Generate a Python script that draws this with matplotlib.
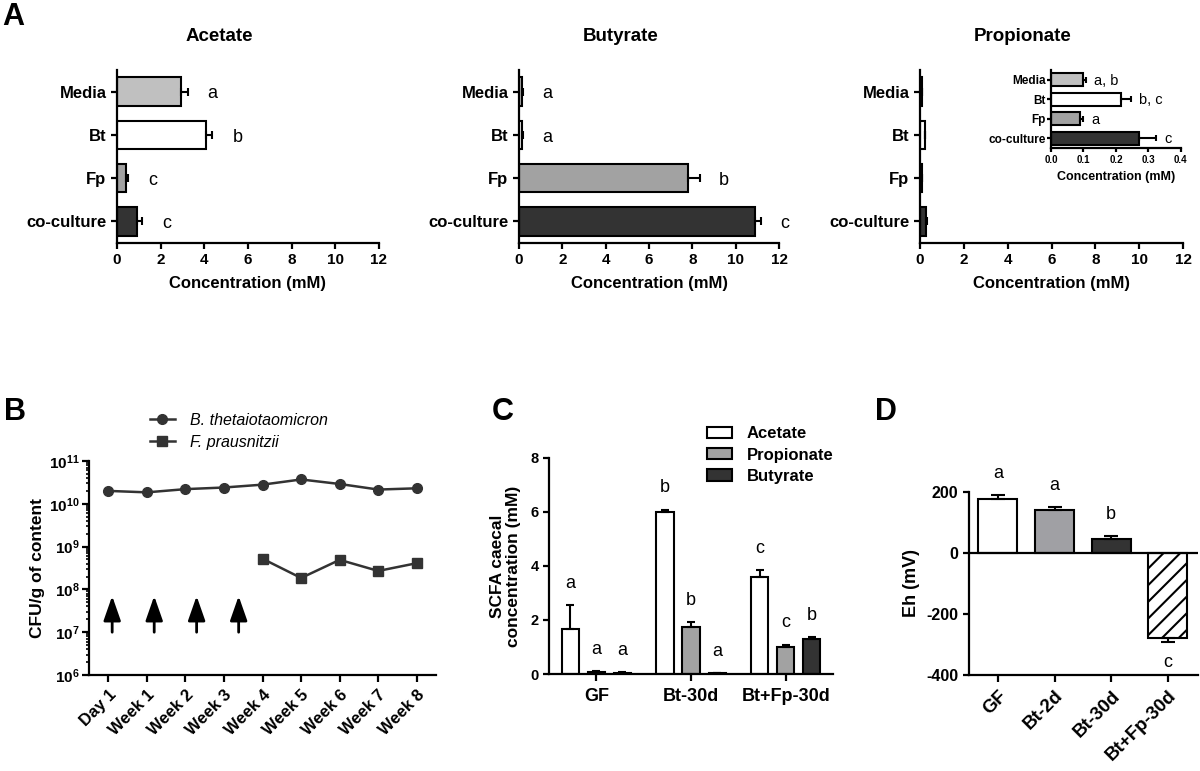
import numpy as np
import matplotlib.pyplot as plt

plt.rcParams['font.family'] = ['Liberation Sans', 'DejaVu Sans']
plt.rcParams['font.weight'] = 'bold'
plt.rcParams['axes.labelweight'] = 'bold'
plt.rcParams['axes.titleweight'] = 'bold'
plt.rcParams['axes.unicode_minus'] = False
plt.rcParams['mathtext.fontset'] = 'custom'
plt.rcParams['mathtext.rm'] = 'Liberation Sans'
plt.rcParams['mathtext.bf'] = 'Liberation Sans:bold'
plt.rcParams['axes.linewidth'] = 1.6
plt.rcParams['hatch.linewidth'] = 1.5

# panel A - in vitro
groups = ['Media', 'Bt', 'Fp', 'co-culture']
bar_colors = ['#c0c0c0', 'white', '#a2a2a2', '#333333']

acetate = [2.91, 4.07, 0.41, 0.91]
acetate_err = [0.32, 0.30, 0.08, 0.22]
acetate_sig = ['a', 'b', 'c', 'c']

butyrate = [0.15, 0.12, 7.80, 10.88]
butyrate_err = [0.05, 0.05, 0.54, 0.28]
butyrate_sig = ['a', 'a', 'b', 'c']

propionate = [0.098, 0.216, 0.088, 0.270]
propionate_err = [0.010, 0.031, 0.010, 0.053]
propionate_sig = ['a, b', 'b, c', 'a', 'c']

# panel B - colonisation
days = ['Day 1', 'Week 1', 'Week 2', 'Week 3', 'Week 4', 'Week 5', 'Week 6', 'Week 7', 'Week 8']
bt_cfu = [2.0e10, 1.85e10, 2.2e10, 2.4e10, 2.8e10, 3.7e10, 2.9e10, 2.15e10, 2.3e10]
fp_start = 4
fp_cfu = [5.2e8, 1.85e8, 4.9e8, 2.7e8, 4.1e8]
gavage = [0.1, 1.19, 2.29, 3.38]

# panel C - caecal SCFA
c_groups = ['GF', 'Bt-30d', 'Bt+Fp-30d']
c_acetate = [1.68, 5.99, 3.60]
c_acetate_err = [0.88, 0.10, 0.24]
c_acetate_sig = ['a', 'b', 'c']
c_prop = [0.06, 1.73, 0.99]
c_prop_err = [0.04, 0.20, 0.10]
c_prop_sig = ['a', 'b', 'c']
c_but = [0.05, 0.02, 1.30]
c_but_err = [0.03, 0.01, 0.07]
c_but_sig = ['a', 'a', 'b']

# panel D - redox
d_groups = ['GF', 'Bt-2d', 'Bt-30d', 'Bt+Fp-30d']
eh = [178, 142, 47, -278]
eh_err = [13, 10, 10, 14]
eh_sig = ['a', 'a', 'b', 'c']
d_colors = ['white', '#a0a0a4', '#333333', 'white']


def style(ax):
    ax.spines['top'].set_visible(False)
    ax.spines['right'].set_visible(False)
    ax.tick_params(width=1.6, length=4, direction='out')


def hbars(ax, vals, errs, sig, xmax, step, off, fs_tick, fs_ylab, fs_sig, fs_lab, labpos, cap=3, letter_ha='center'):
    y = np.arange(len(vals))
    ax.barh(y, vals, height=0.66, color=bar_colors, edgecolor='black', linewidth=1.5,
            xerr=[np.zeros(len(vals)), errs], error_kw=dict(ecolor='black', elinewidth=1.5, capsize=cap, capthick=1.5))
    ax.set_ylim(3.5, -0.5)
    ax.set_xlim(0, xmax)
    ticks = np.arange(0, xmax + step / 2, step)
    ax.set_xticks(ticks)
    if step < 1:
        ax.set_xticklabels(['%.1f' % t for t in ticks])
    ax.set_yticks(y)
    ax.set_yticklabels(groups, fontsize=fs_ylab)
    ax.tick_params(axis='x', labelsize=fs_tick)
    style(ax)
    if sig is not None:
        for i in range(len(vals)):
            ax.text(vals[i] + errs[i] + off, y[i] + 0.05, sig[i], ha=letter_ha, va='center',
                    fontsize=fs_sig, fontweight='normal')
    ax.set_xlabel('Concentration (mM)', fontsize=fs_lab)
    ax.xaxis.set_label_coords(0.5, labpos)


fig = plt.figure(figsize=(12, 7.71), dpi=100)

axA1 = fig.add_axes([0.0975, 0.6848, 0.2183, 0.2244])
hbars(axA1, acetate, acetate_err, acetate_sig, 12, 2, 1.15, 11, 12, 13, 12, -0.19)
axA1.set_title('Acetate', fontsize=13.5, x=0.39, pad=21)

axA2 = fig.add_axes([0.4325, 0.6848, 0.2167, 0.2244])
hbars(axA2, butyrate, butyrate_err, butyrate_sig, 12, 2, 1.12, 11, 12, 13, 12, -0.19)
axA2.set_title('Butyrate', fontsize=13.5, x=0.39, pad=21)

axA3 = fig.add_axes([0.7667, 0.6848, 0.2192, 0.2244])
hbars(axA3, propionate, propionate_err, None, 12, 2, 0, 11, 12, 13, 12, -0.19)
axA3.set_title('Propionate', fontsize=13.5, x=0.39, pad=21)

axIn = fig.add_axes([0.8758, 0.808, 0.1083, 0.101])
hbars(axIn, propionate, propionate_err, propionate_sig, 0.4, 0.1, 0.025, 7, 8.5, 10.5, 9, -0.3,
      cap=2, letter_ha='left')
axIn.tick_params(axis='y', length=3, pad=1)
axIn.tick_params(axis='x', length=3, pad=2)

# panel B
axB = fig.add_axes([0.0742, 0.1245, 0.2892, 0.2776])
x = np.arange(len(days))
axB.plot(x, bt_cfu, '-o', color='#333333', lw=1.8, ms=7, label='B. thetaiotaomicron')
axB.plot(x[fp_start:], fp_cfu, '-s', color='#333333', lw=1.8, ms=7, label='F. prausnitzii')
for g in gavage:
    axB.annotate('', xy=(g, 7e7), xytext=(g, 1e7),
                 arrowprops=dict(arrowstyle='-|>,head_width=0.35,head_length=1.0', lw=2,
                                 color='black', mutation_scale=15, shrinkA=0, shrinkB=0))
axB.set_yscale('log')
axB.set_ylim(1e6, 1e11)
axB.set_xlim(-0.5, 8.5)
axB.set_yticks([1e6, 1e7, 1e8, 1e9, 1e10, 1e11])
axB.set_yticklabels([r'$\mathbf{10^{%d}}$' % k for k in range(6, 12)], fontsize=11)
axB.set_xticks(x)
axB.set_xticklabels(days, rotation=45, ha='right', rotation_mode='anchor', fontsize=12)
style(axB)
axB.tick_params(axis='y', which='minor', length=2.5, width=1.2)
axB.tick_params(axis='y', which='major', length=5, pad=2)
axB.tick_params(axis='x', length=5, pad=4)
axB.set_ylabel('CFU/g of content', fontsize=12.5)
axB.yaxis.set_label_coords(-0.128, 0.5)
axB.legend(loc='upper left', bbox_to_anchor=(0.118, 0.475), bbox_transform=fig.transFigure,
           frameon=False, prop=dict(style='italic', weight='normal', size=11.5),
           handlelength=1.6, handletextpad=0.9, labelspacing=0.45, borderpad=0)

# panel C
axC = fig.add_axes([0.4575, 0.1258, 0.2367, 0.2802])
xc = np.arange(len(c_groups))
w = 0.18
series = [(c_acetate, c_acetate_err, c_acetate_sig, 'white', 'Acetate', -0.275),
          (c_prop, c_prop_err, c_prop_sig, '#a2a2a2', 'Propionate', 0.0),
          (c_but, c_but_err, c_but_sig, '#333333', 'Butyrate', 0.275)]
for vals, errs, sig, col, lab, dx in series:
    axC.bar(xc + dx, vals, width=w, color=col, edgecolor='black', linewidth=1.5, label=lab,
            yerr=[np.zeros(len(vals)), errs],
            error_kw=dict(ecolor='black', elinewidth=1.5, capsize=3, capthick=1.5))
    for i in range(len(vals)):
        axC.text(xc[i] + dx, vals[i] + errs[i] + 0.8, sig[i], ha='center', va='center',
                 fontsize=13, fontweight='normal')
axC.set_xlim(-0.5, 2.5)
axC.set_ylim(0, 8)
axC.set_yticks([0, 2, 4, 6, 8])
axC.set_xticks(xc)
axC.set_xticklabels(c_groups, fontsize=13)
axC.tick_params(axis='y', labelsize=10.5)
style(axC)
axC.tick_params(axis='x', length=5, pad=5)
axC.set_ylabel('SCFA caecal\nconcentration (mM)', fontsize=12.5, linespacing=1.05)
axC.yaxis.set_label_coords(-0.1, 0.5)
axC.legend(loc='upper left', bbox_to_anchor=(0.582, 0.458), bbox_transform=fig.transFigure,
           frameon=False, prop=dict(weight='bold', size=12),
           handlelength=1.5, handleheight=0.65, handletextpad=0.9, labelspacing=0.38, borderpad=0)

# panel D
axD = fig.add_axes([0.8075, 0.1245, 0.1908, 0.2374])
xd = np.arange(len(d_groups))
bars = axD.bar(xd, eh, width=0.69, color=d_colors, edgecolor='black', linewidth=1.5)
bars[3].set_hatch('//')
for i in range(len(eh)):
    sgn = 1 if eh[i] > 0 else -1
    axD.errorbar(xd[i], eh[i], yerr=[[0], [eh_err[i]]] if sgn > 0 else [[eh_err[i]], [0]],
                 fmt='none', ecolor='black', elinewidth=1.5, capsize=5, capthick=1.5)
    axD.text(xd[i], eh[i] + sgn * (eh_err[i] + 68), eh_sig[i], ha='center', va='center',
             fontsize=13, fontweight='normal')
axD.axhline(0, color='black', lw=1.6)
axD.set_xlim(-0.51, 3.53)
axD.set_ylim(-400, 200)
axD.set_yticks([-400, -200, 0, 200])
axD.set_xticks(xd)
axD.set_xticklabels(d_groups, rotation=45, ha='right', rotation_mode='anchor', fontsize=13.5)
axD.tick_params(axis='y', labelsize=11.5)
style(axD)
axD.tick_params(axis='x', length=5, pad=4)
axD.set_ylabel('Eh (mV)', fontsize=13)
axD.yaxis.set_label_coords(-0.214, 0.5)

# panel letters
fig.text(0.002, 0.978, 'A', fontsize=22, va='center', ha='left')
fig.text(0.003, 0.466, 'B', fontsize=22, va='center', ha='left')
fig.text(0.410, 0.465, 'C', fontsize=22, va='center', ha='left')
fig.text(0.729, 0.466, 'D', fontsize=22, va='center', ha='left')

fig.savefig('out.png', dpi=100)
